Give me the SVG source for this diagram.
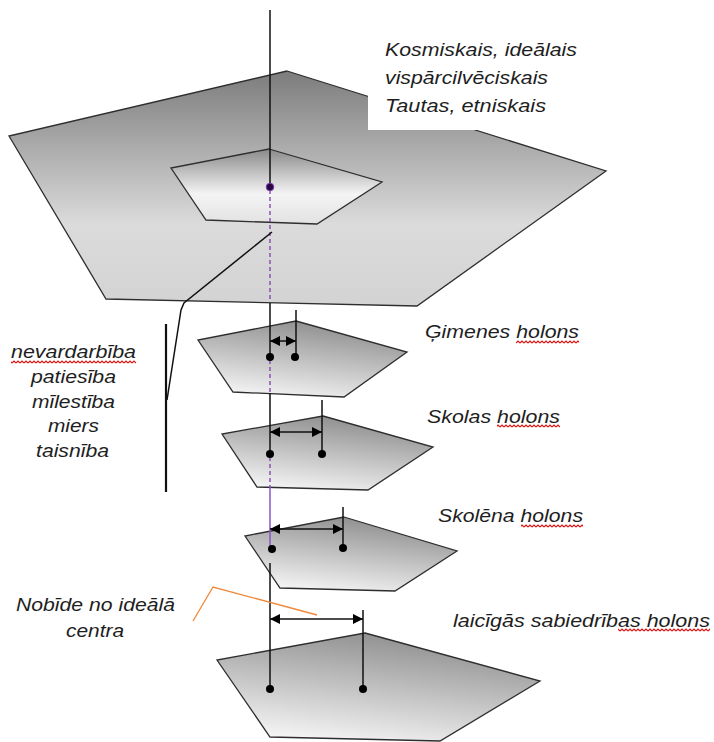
<svg xmlns="http://www.w3.org/2000/svg" width="714" height="742" viewBox="0 0 714 742">
<defs>
<style>
.lbl{font-family:"Liberation Sans",Arial,sans-serif;font-style:italic;font-size:18.5px;fill:#1e1e1e}
.plane{stroke:#2e2e2e;stroke-width:1.3;stroke-linejoin:miter}
.ln{stroke:#111;stroke-width:1.5;fill:none}
.dash{stroke:#7b3fb0;stroke-width:1.3;stroke-dasharray:4 3;fill:none}
.dot{fill:#000}
.arr{stroke:#111;stroke-width:1.5;marker-start:url(#ah);marker-end:url(#ah)}
</style>
<linearGradient id="gBig" x1="0" y1="0" x2="0" y2="1">
<stop offset="0" stop-color="#7c7c7c"/>
<stop offset="0.65" stop-color="#dbdbdb"/>
<stop offset="1" stop-color="#d3d3d3"/>
</linearGradient>
<linearGradient id="gIn" x1="0" y1="0" x2="0" y2="1">
<stop offset="0" stop-color="#8a8a8a"/>
<stop offset="0.6" stop-color="#f4f4f4"/>
<stop offset="1" stop-color="#e2e2e2"/>
</linearGradient>
<linearGradient id="gSm" x1="0.7" y1="0" x2="0.35" y2="1">
<stop offset="0" stop-color="#8a8a8a"/>
<stop offset="1" stop-color="#f3f3f3"/>
</linearGradient>
<marker id="ah" viewBox="0 0 10 10" refX="10" refY="5" markerWidth="11" markerHeight="10" markerUnits="userSpaceOnUse" orient="auto-start-reverse">
<path d="M0,0 L10,5 L0,10 z" fill="#000"/>
</marker>
<pattern id="wavy" width="4" height="4" patternUnits="userSpaceOnUse">
<path d="M0,3 L2,1 L4,3" stroke="#e01010" stroke-width="1.2" fill="none"/>
</pattern>
</defs>
<rect width="714" height="742" fill="#fff"/>

<g id="plane-cosmic">
<polygon class="plane" fill="url(#gBig)" points="287,71 606,171 417,306 106,299 9,136"/>
<polygon class="plane" fill="url(#gIn)" points="269,149 382,182 317,224 206,220 171,168"/>
<rect x="368" y="28" width="200" height="102" fill="#fff"/>
</g>

<g id="label-cosmic">
<text class="lbl" x="385" y="56" textLength="192" lengthAdjust="spacingAndGlyphs">Kosmiskais, ideālais</text>
<text class="lbl" x="385" y="84" textLength="163" lengthAdjust="spacingAndGlyphs">vispārcilvēciskais</text>
<text class="lbl" x="385" y="112" textLength="161" lengthAdjust="spacingAndGlyphs">Tautas, etniskais</text>
</g>

<g id="plane-gimenes">
<polygon class="plane" fill="url(#gSm)" points="296,321 407,352 344,397 233,392 198,340"/>
</g>
<g id="plane-skolas">
<polygon class="plane" fill="url(#gSm)" points="323,416 433,447 368,490 257,487 222,434"/>
</g>
<g id="plane-skolena">
<polygon class="plane" fill="url(#gSm)" points="344,517 457,551 395,591 280,588 245,536"/>
</g>
<g id="plane-laicigas">
<polygon class="plane" fill="url(#gSm)" points="365,633 540,681 440,741 270,737 217,660"/>
</g>

<g id="connectors">
<line class="ln" x1="270" y1="10" x2="270" y2="187"/>
<line class="dash" x1="270" y1="190" x2="270" y2="302"/>
<line class="ln" x1="270" y1="303" x2="270" y2="357"/>
<line class="dash" x1="270" y1="360" x2="270" y2="393"/>
<line class="ln" x1="270" y1="393" x2="270" y2="454"/>
<line class="dash" x1="270" y1="457" x2="270" y2="487"/>
<line x1="270" y1="487" x2="270" y2="549" stroke="#8a55c8" stroke-width="1.5"/>
<line class="ln" x1="270" y1="563" x2="270" y2="689"/>
<circle cx="270" cy="187" r="3.8" fill="#2a0640" stroke="#7b3fb0" stroke-width="1"/>

<line class="ln" x1="296" y1="310" x2="296" y2="357"/>
<line class="arr" x1="270" y1="341" x2="296" y2="341"/>
<circle class="dot" cx="270" cy="357" r="4"/>
<circle class="dot" cx="295" cy="357" r="4"/>

<line class="ln" x1="322" y1="400" x2="322" y2="454"/>
<line class="arr" x1="270" y1="432" x2="322" y2="432"/>
<circle class="dot" cx="270" cy="454" r="4"/>
<circle class="dot" cx="322" cy="454" r="4"/>

<line class="ln" x1="343" y1="507" x2="343" y2="548"/>
<line class="arr" x1="270" y1="529" x2="343" y2="529"/>
<circle class="dot" cx="272" cy="549" r="4"/>
<circle class="dot" cx="343" cy="548" r="4"/>

<line class="ln" x1="363" y1="610" x2="363" y2="689"/>
<line class="arr" x1="270" y1="619" x2="363" y2="619"/>
<circle class="dot" cx="270" cy="689" r="4"/>
<circle class="dot" cx="363" cy="689" r="4"/>

<polyline class="ln" points="272,232 184,303 181,310 167,400"/>
<line x1="166" y1="324" x2="166" y2="492" stroke="#111" stroke-width="2.2"/>

<polyline points="193,621 213,587 317,615" fill="none" stroke="#f0883a" stroke-width="1.3"/>
</g>

<g id="label-values">
<text class="lbl" x="11" y="358" textLength="125" lengthAdjust="spacingAndGlyphs">nevardarbība</text>
<rect x="11" y="360" width="125" height="4" fill="url(#wavy)"/>
<text class="lbl" x="31" y="383" textLength="85" lengthAdjust="spacingAndGlyphs">patiesība</text>
<text class="lbl" x="32" y="408" textLength="83" lengthAdjust="spacingAndGlyphs">mīlestība</text>
<text class="lbl" x="48" y="432" textLength="51" lengthAdjust="spacingAndGlyphs">miers</text>
<text class="lbl" x="36" y="457" textLength="73" lengthAdjust="spacingAndGlyphs">taisnība</text>
</g>

<g id="label-gimenes">
<text class="lbl" x="425" y="338" textLength="154" lengthAdjust="spacingAndGlyphs">Ģimenes holons</text>
<rect x="516" y="340" width="63" height="4" fill="url(#wavy)"/>
</g>
<g id="label-skolas">
<text class="lbl" x="427" y="423" textLength="133" lengthAdjust="spacingAndGlyphs">Skolas holons</text>
<rect x="497" y="424" width="63" height="4" fill="url(#wavy)"/>
</g>
<g id="label-skolena">
<text class="lbl" x="438" y="522" textLength="145" lengthAdjust="spacingAndGlyphs">Skolēna holons</text>
<rect x="521" y="524" width="62" height="4" fill="url(#wavy)"/>
</g>
<g id="label-laicigas">
<text class="lbl" x="453" y="627" textLength="257" lengthAdjust="spacingAndGlyphs">laicīgās sabiedrības holons</text>
<rect x="618" y="628" width="92" height="4" fill="url(#wavy)"/>
</g>
<g id="label-nobide">
<text class="lbl" x="16" y="611" textLength="159" lengthAdjust="spacingAndGlyphs">Nobīde no ideālā</text>
<text class="lbl" x="66" y="637" textLength="58" lengthAdjust="spacingAndGlyphs">centra</text>
</g>
</svg>
